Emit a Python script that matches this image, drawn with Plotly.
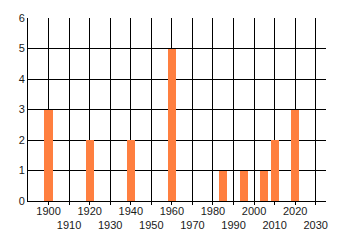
import plotly.graph_objects as go

years = [1900, 1920, 1940, 1960, 1985, 1995, 2005, 2010, 2020]
counts = [3, 2, 2, 5, 1, 1, 1, 2, 3]
upper_ticks = [1900, 1920, 1940, 1960, 1980, 2000, 2020]
lower_ticks = [1910, 1930, 1950, 1970, 1990, 2010, 2030]
y_ticks = [0, 1, 2, 3, 4, 5, 6]

all_ticks = sorted(upper_ticks + lower_ticks)
font = dict(family="Liberation Sans, Arial, sans-serif", size=11, color="#1a1a1a")

fig = go.Figure()
fig.add_trace(go.Bar(x=years, y=counts, width=4, marker=dict(color="#FF7F3F", line=dict(width=0)),
                     showlegend=False))
# invisible trace for secondary axis
fig.add_trace(go.Scatter(x=[1890], y=[0], xaxis="x2", mode="markers",
                         marker=dict(opacity=0), showlegend=False, hoverinfo="skip"))

fig.update_layout(
    width=340, height=245,
    margin=dict(l=28, r=14, t=15, b=44),
    paper_bgcolor="white", plot_bgcolor="white",
    font=font,
    bargap=0,
    xaxis=dict(
        range=[1890, 2035],
        tickvals=all_ticks,
        ticktext=[str(t) if t in upper_ticks else "" for t in all_ticks],
        showgrid=True, gridcolor="black", gridwidth=1,
        showline=True, linecolor="black", linewidth=1,
        ticks="outside", ticklen=3, tickcolor="black",
        zeroline=False, tickfont=font, ticklabelstandoff=-3,
    ),
    xaxis2=dict(
        range=[1890, 2035], overlaying="x", side="bottom", anchor="y",
        tickvals=lower_ticks, ticktext=[str(t) for t in lower_ticks],
        showgrid=False, showline=False, ticks="", zeroline=False,
        ticklabelstandoff=16, tickfont=font,
    ),
    yaxis=dict(
        range=[0, 6], tickvals=y_ticks, ticktext=[str(t) for t in y_ticks],
        showgrid=True, gridcolor="black", gridwidth=1,
        showline=True, linecolor="black", linewidth=1,
        ticks="", zeroline=False, tickfont=font, ticklabelstandoff=0,
    ),
)

fig.write_html("out.html")
